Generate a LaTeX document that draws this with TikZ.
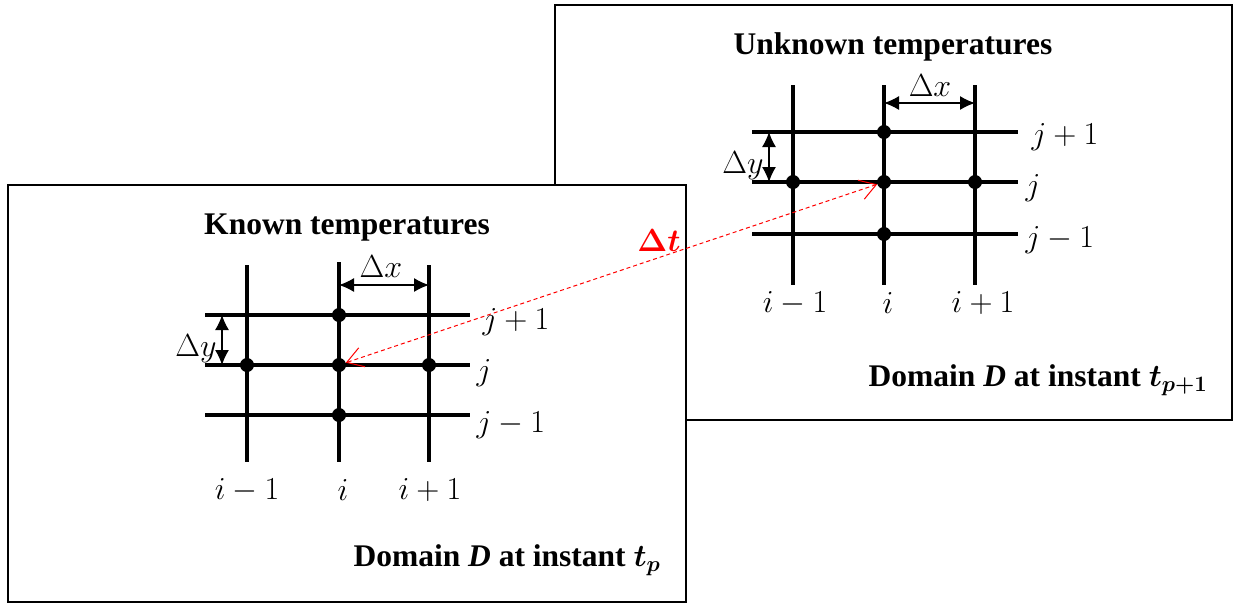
\RequirePackage{fix-cm}
\documentclass[tikz,border=0pt]{standalone}
\usepackage{amsmath}
\usepackage{fontspec}
\setmainfont{Liberation Serif}
\usetikzlibrary{arrows.meta}

\tikzset{
  gridline/.style={line width=3.8pt},
  gridpt/.style={circle,fill,inner sep=0pt,minimum size=14pt},
  delta/.style={line width=1.3pt,{Latex[length=15pt,width=14pt]}-{Latex[length=15pt,width=14pt]}},
  lbl/.style={font=\fontsize{32}{36}\selectfont},
  ttl/.style={font=\fontsize{31.5}{36}\selectfont\bfseries},
}

\begin{document}
\begin{tikzpicture}[x=1pt,y=-1pt]
\useasboundingbox (0,0) rectangle (1237,603);

% domain at t_{p+1}
\draw[line width=2pt,fill=white] (555,5) rectangle (1232,420);
\node[ttl] (ttlR) at (893,47) {Unknown temperatures};
\draw[gridline] (793,85) -- (793,285);
\draw[gridline] (884,85) -- (884,285);
\draw[gridline] (975,85) -- (975,285);
\draw[gridline] (752,132) -- (1018,132);
\draw[gridline] (752,182) -- (1018,182);
\draw[gridline] (752,234) -- (1018,234);
\node[gridpt] (rN) at (884,132) {};
\node[gridpt] (rW) at (793,182) {};
\node[gridpt] (rC) at (884,182) {};
\node[gridpt] (rE) at (975,182) {};
\node[gridpt] (rS) at (884,234) {};
\coordinate (rdx) at (884,103);
\coordinate (rdx2) at (975,103);
\coordinate (rdy) at (769,132);
\coordinate (rdy2) at (769,182);
\draw[delta] (rdx) -- (rdx2);
\draw[delta] (rdy) -- (rdy2);
\node[lbl] (rDx) at (930,86) {$\Delta x$};
\node[lbl,anchor=east] (rDy) at (767,166) {$\Delta y$};
\node[lbl,anchor=west] (rj1) at (1028,137) {$j+1$};
\node[lbl,anchor=west] (rj) at (1022,188) {$j$};
\node[lbl,anchor=west] (rj0) at (1022,240) {$j-1$};
\node[lbl] (ri0) at (795,303) {$i-1$};
\node[lbl] (ri) at (888,303) {$i$};
\node[lbl] (ri1) at (983,303) {$i+1$};
\node[ttl] (domR) at (1038,380) {Domain \textit{D} at instant $\boldsymbol{t_{p+1}}$};

% domain at t_p
\draw[line width=2pt,fill=white] (8,185) rectangle (686,602);
\node[ttl] (ttlL) at (347,228) {Known temperatures};
\draw[gridline] (247,265) -- (247,462);
\draw[gridline] (339,262) -- (339,462);
\draw[gridline] (429,265) -- (429,462);
\draw[gridline] (205,315) -- (470,315);
\draw[gridline] (205,365) -- (470,365);
\draw[gridline] (205,415) -- (470,415);
\node[gridpt] (lN) at (339,315) {};
\node[gridpt] (lW) at (247,365) {};
\node[gridpt] (lC) at (339,365) {};
\node[gridpt] (lE) at (429,365) {};
\node[gridpt] (lS) at (339,415) {};
\coordinate (ldx) at (339,285);
\coordinate (ldx2) at (429,285);
\coordinate (ldy) at (222,315);
\coordinate (ldy2) at (222,365);
\draw[delta] (ldx) -- (ldx2);
\draw[delta] (ldy) -- (ldy2);
\node[lbl] (lDx) at (381,267) {$\Delta x$};
\node[lbl,anchor=east] (lDy) at (220,349) {$\Delta y$};
\node[lbl,anchor=west] (lj1) at (479,322) {$j+1$};
\node[lbl,anchor=west] (lj) at (473,373) {$j$};
\node[lbl,anchor=west] (lj0) at (473,425) {$j-1$};
\node[lbl] (li0) at (247,490) {$i-1$};
\node[lbl] (li) at (343,490) {$i$};
\node[lbl] (li1) at (430,490) {$i+1$};
\node[ttl] (domL) at (507,560) {Domain \textit{D} at instant $\boldsymbol{t_{p}}$};

% time step
\draw[red,line width=1pt,dash pattern=on 4pt off 3pt,
  {Straight Barb[length=16pt,width=20pt]}-{Straight Barb[length=16pt,width=20pt]}] (rC) -- (lC);
\node[lbl,red] (dt) at (659,241) {$\boldsymbol{\Delta t}$};
\end{tikzpicture}
\end{document}
